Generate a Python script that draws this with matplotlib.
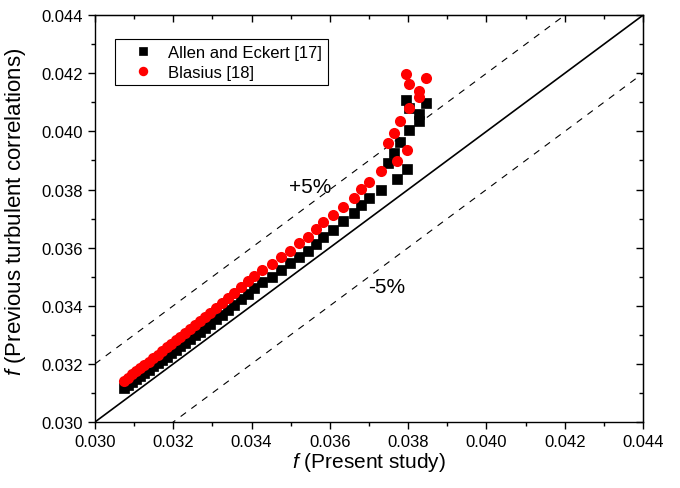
import numpy as np
import matplotlib.pyplot as plt
from matplotlib.ticker import MultipleLocator, FormatStrFormatter

plt.rcParams['font.family'] = ['Liberation Sans', 'DejaVu Sans']
plt.rcParams['mathtext.fontset'] = 'custom'
plt.rcParams['mathtext.rm'] = 'Liberation Sans'
plt.rcParams['mathtext.it'] = 'Liberation Sans:italic'

# ---------------------------------------------------------
# Datos
# ---------------------------------------------------------
f_present = [0.03074, 0.03084, 0.03095, 0.03105, 0.03115, 0.03125, 0.03137, 0.03148,
             0.03160, 0.03171, 0.03183, 0.03194, 0.03206, 0.03217, 0.03230, 0.03243,
             0.03255, 0.03268, 0.03281, 0.03294, 0.03309, 0.03324, 0.03339, 0.03356,
             0.03372, 0.03390, 0.03406, 0.03427, 0.03451, 0.03476, 0.03497, 0.03520,
             0.03543, 0.03564, 0.03583, 0.03609, 0.03634, 0.03661, 0.03680, 0.03700,
             0.03731,
             0.03749, 0.03763, 0.03771, 0.03779, 0.03794, 0.03796, 0.03801, 0.03803,
             0.03827, 0.03827, 0.03846]

f_allen = [0.03117, 0.03127, 0.03137, 0.03148, 0.03158, 0.03168, 0.03180, 0.03191,
           0.03203, 0.03214, 0.03225, 0.03237, 0.03248, 0.03260, 0.03273, 0.03286,
           0.03298, 0.03311, 0.03324, 0.03337, 0.03354, 0.03369, 0.03386, 0.03402,
           0.03423, 0.03440, 0.03460, 0.03481, 0.03500, 0.03524, 0.03546, 0.03569,
           0.03589, 0.03612, 0.03635, 0.03660, 0.03690, 0.03718, 0.03745, 0.03770,
           0.03800,
           0.03891, 0.03925, 0.03836, 0.03962, 0.04108, 0.03870, 0.04005, 0.04079,
           0.04037, 0.04060, 0.04097]

f_blasius = [0.03142, 0.03153, 0.03164, 0.03174, 0.03185, 0.03196, 0.03208, 0.03220,
             0.03232, 0.03244, 0.03257, 0.03269, 0.03281, 0.03293, 0.03306, 0.03320,
             0.03333, 0.03346, 0.03360, 0.03374, 0.03392, 0.03408, 0.03426, 0.03444,
             0.03465, 0.03485, 0.03503, 0.03523, 0.03544, 0.03569, 0.03588, 0.03615,
             0.03638, 0.03663, 0.03687, 0.03713, 0.03741, 0.03771, 0.03803, 0.03827,
             0.03864,
             0.03959, 0.03995, 0.03899, 0.04035, 0.04197, 0.03936, 0.04080, 0.04162,
             0.04117, 0.04140, 0.04182]

lims = [0.030, 0.044]
offset = 0.002  # bandas +/-5% dibujadas en la figura

# ---------------------------------------------------------
# Figura
# ---------------------------------------------------------
fig = plt.figure(figsize=(6.8, 4.89), dpi=100)
ax = fig.add_axes([0.1397, 0.135, 0.806, 0.832])

x_line = np.array(lims)
ax.plot(x_line, x_line, 'k-', lw=1.2)
ax.plot(x_line, x_line + offset, 'k--', lw=0.8, dashes=(6, 6))
ax.plot(x_line, x_line - offset, 'k--', lw=0.8, dashes=(6, 6))

ax.plot(f_present, f_allen, 's', color='black', ms=7, mec='black', mew=0.5,
        label='Allen and Eckert [17]')
ax.plot(f_present, f_blasius, 'o', color='red', ms=8, mec='red', mew=0,
        label='Blasius [18]')

ax.text(0.03549, 0.03812, '+5%', fontsize=15, ha='center', va='center')
ax.text(0.03745, 0.03466, '-5%', fontsize=15, ha='center', va='center')

ax.set_xlim(lims)
ax.set_ylim(lims)
ax.xaxis.set_major_locator(MultipleLocator(0.002))
ax.xaxis.set_minor_locator(MultipleLocator(0.001))
ax.yaxis.set_major_locator(MultipleLocator(0.002))
ax.yaxis.set_minor_locator(MultipleLocator(0.001))
ax.xaxis.set_major_formatter(FormatStrFormatter('%.3f'))
ax.yaxis.set_major_formatter(FormatStrFormatter('%.3f'))
ax.tick_params(which='both', direction='out', labelsize=12, width=1.0)
ax.tick_params(which='major', length=5)
ax.tick_params(which='minor', length=3)

# ticks interiores arriba y a la derecha, sin etiquetas
axt = ax.secondary_xaxis('top')
axt.xaxis.set_major_locator(MultipleLocator(0.002))
axt.xaxis.set_minor_locator(MultipleLocator(0.001))
axt.tick_params(which='both', direction='in', labeltop=False, width=1.0)
axt.tick_params(which='major', length=5)
axt.tick_params(which='minor', length=3)
axr = ax.secondary_yaxis('right')
axr.yaxis.set_major_locator(MultipleLocator(0.002))
axr.yaxis.set_minor_locator(MultipleLocator(0.001))
axr.tick_params(which='both', direction='in', labelright=False, width=1.0)
axr.tick_params(which='major', length=5)
axr.tick_params(which='minor', length=3)

for s in ax.spines.values():
    s.set_linewidth(1.0)

ax.set_xlabel(r'$f$ (Present study)', fontsize=15, labelpad=1)
ax.set_ylabel(r'$f$ (Previous turbulent correlations)', fontsize=16)
ax.yaxis.set_label_coords(-0.122, 0.52)

leg = ax.legend(loc='upper left', bbox_to_anchor=(0.036, 0.942), fontsize=12,
                frameon=True, fancybox=False, edgecolor='black', framealpha=1,
                handletextpad=0.15, borderpad=0.35, labelspacing=0.3,
                handlelength=2.7, borderaxespad=0, markerscale=0.85)
leg.get_frame().set_linewidth(0.8)

fig.savefig('out.png', dpi=100)
